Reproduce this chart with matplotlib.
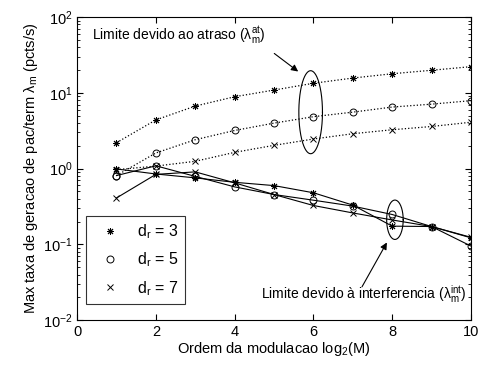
import numpy as np
import matplotlib
matplotlib.use('Agg')
import matplotlib.pyplot as plt
from matplotlib.lines import Line2D
from matplotlib.ticker import LogLocator, NullFormatter

plt.rcParams['font.family'] = ['Liberation Sans', 'DejaVu Sans']
plt.rcParams['mathtext.fontset'] = 'custom'
plt.rcParams['mathtext.rm'] = 'Liberation Sans'
plt.rcParams['mathtext.it'] = 'Liberation Sans'
plt.rcParams['mathtext.default'] = 'regular'

# modulation order log2(M)
ordem = [1, 2, 3, 4, 5, 6, 7, 8, 9, 10]

# delay limit (dotted)
atraso_d3 = [2.2, 4.4, 6.7, 8.9, 10.9, 13.4, 15.7, 17.9, 19.9, 22.2]
atraso_d5 = [0.81, 1.61, 2.41, 3.19, 3.99, 4.85, 5.57, 6.5, 7.1, 7.9]
atraso_d7 = [0.97, 1.08, 1.25, 1.64, 2.03, 2.46, 2.89, 3.26, 3.6, 4.1]

# interference limit (solid)
interf_d3 = [0.99, 0.85, 0.755, 0.66, 0.597, 0.48, 0.33, 0.174, 0.172, 0.122]
interf_d5 = [0.81, 1.09, 0.79, 0.574, 0.455, 0.383, 0.32, 0.248, 0.172, 0.095]
interf_d7 = [0.41, 0.84, 0.906, 0.649, 0.455, 0.326, 0.26, 0.21, 0.172, 0.124]

dr_labels = ['3', '5', '7']
markers = [(8, 2, 0), 'o', 'x']
sizes = [5, 5, 4]

fig = plt.figure(figsize=(4.85, 3.65), dpi=100)
ax = fig.add_axes([0.159, 0.123, 0.812, 0.83])

for serie, m, s in zip([atraso_d3, atraso_d5, atraso_d7], markers, sizes):
    ax.plot(ordem, serie, color='k', linestyle=':', linewidth=0.9,
            marker=m, markersize=s, markerfacecolor='none', markeredgewidth=0.7)

for serie, m, s in zip([interf_d3, interf_d5, interf_d7], markers, sizes):
    ax.plot(ordem, serie, color='k', linestyle='-', linewidth=0.8,
            marker=m, markersize=s, markerfacecolor='none', markeredgewidth=0.7)

ax.set_yscale('log')
ax.set_xlim(0, 10)
ax.set_ylim(1e-2, 1e2)
ax.set_xticks([0, 2, 4, 6, 8, 10])
ax.yaxis.set_major_locator(LogLocator(base=10, numticks=10))
ax.yaxis.set_minor_locator(LogLocator(base=10, subs=np.arange(2, 10), numticks=10))
ax.yaxis.set_minor_formatter(NullFormatter())
ax.tick_params(which='both', direction='in', top=True, right=True, labelsize=10.5)
ax.tick_params(which='major', length=4)
ax.tick_params(which='minor', length=2)
for sp in ax.spines.values():
    sp.set_linewidth(0.8)

ax.set_xlabel('Ordem da modulacao log$_2$(M)', fontsize=10.5, labelpad=1)
ax.set_ylabel('Max taxa de geracao de pac/term $\\lambda_m$ (pcts/s)', fontsize=10.5, labelpad=2)

# ellipses marking the two limits (x linear, y in decades)
t = np.linspace(0, 2 * np.pi, 200)
ax.plot(5.93 + 0.3 * np.cos(t), 10 ** (0.745 + 0.548 * np.sin(t)), color='k', linewidth=0.8)
ax.plot(8.07 + 0.21 * np.cos(t), 10 ** (-0.675 + 0.26 * np.sin(t)), color='k', linewidth=0.8)

ax.text(0.38, 58, 'Limite devido ao atraso ($\\lambda_m^{at}$)', fontsize=10, va='center', ha='left')
ax.annotate('', xy=(5.67, 18.2), xytext=(4.95, 34.9),
            arrowprops=dict(arrowstyle='-|>', color='k', lw=0.8, mutation_scale=10))

ax.text(9.9, 0.022, 'Limite devido à interferencia ($\\lambda_m^{int}$)', fontsize=10, va='center', ha='right')
ax.annotate('', xy=(7.9, 0.114), xytext=(7.2, 0.0256),
            arrowprops=dict(arrowstyle='-|>', color='k', lw=0.8, mutation_scale=10))

handles = [Line2D([], [], color='k', linestyle='none', marker=m, markersize=s,
                  markerfacecolor='none', markeredgewidth=0.7) for m, s in zip(markers, sizes)]
labels = ['d$_r$ = ' + d for d in dr_labels]
leg = ax.legend(handles, labels, loc='lower left', bbox_to_anchor=(0.023, 0.053),
                fontsize=11.5, frameon=True, fancybox=False, edgecolor='k',
                handlelength=2.2, handletextpad=0.6, labelspacing=0.6, borderpad=0.4,
                borderaxespad=0)
leg.get_frame().set_linewidth(0.8)

fig.savefig('out.png', dpi=100)
